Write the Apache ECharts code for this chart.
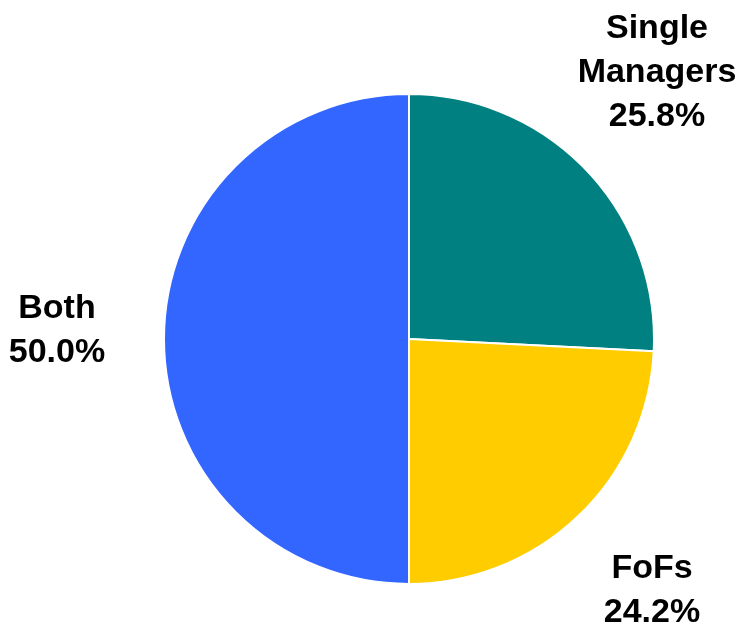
<!DOCTYPE html>
<html>
<head>
<meta charset="utf-8">
<script src="https://cdn.jsdelivr.net/npm/echarts@6/dist/echarts.min.js"></script>
<style>
  html, body { margin: 0; padding: 0; background: #fff; }
  #chart { width: 740px; height: 624px; }
</style>
</head>
<body>
<div id="chart"></div>
<script>
// data
const names = ['Single\nManagers', 'FoFs', 'Both']
const values = [25.8, 24.2, 50.0]
const colors = ['#008080', '#FFCC00', '#3366FF']

// label centres (px), one per slice
const labelPos = [[657, 73], [652, 591], [57, 331]]

const chart = echarts.init(document.getElementById('chart'))
chart.setOption({
  animation: false,
  series: [
    {
      type: 'pie',
      center: [409, 339],
      radius: 245,
      startAngle: 90,
      clockwise: true,
      data: names.map((n, i) => ({
        name: n,
        value: values[i],
        itemStyle: { color: colors[i] }
      })),
      itemStyle: { borderColor: '#fff', borderWidth: 2 },
      label: {
        show: true,
        position: 'outside',
        formatter: p => p.name + '\n' + p.value.toFixed(1) + '%',
        fontFamily: 'Liberation Sans, Arial, sans-serif',
        fontWeight: 'bold',
        fontSize: 34,
        lineHeight: 44,
        color: '#000',
        align: 'center',
        overflow: 'none',
        width: 200
      },
      labelLine: { show: false },
      labelLayout: p => ({
        x: labelPos[p.dataIndex][0],
        y: labelPos[p.dataIndex][1],
        align: 'center',
        verticalAlign: 'middle'
      }),
      emphasis: { disabled: true }
    }
  ]
})
</script>
</body>
</html>
